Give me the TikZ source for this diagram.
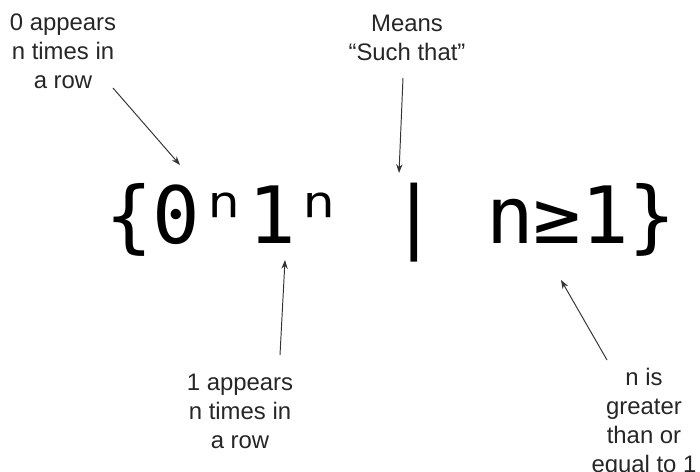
\documentclass[tikz,border=0pt]{standalone}
\usepackage{fontspec}
\setmainfont{Liberation Sans}
\newfontfamily\setfont{DejaVu Sans Mono}
\usetikzlibrary{arrows.meta,positioning}

\begin{document}
\begin{tikzpicture}[
    x=0.02cm, y=-0.02cm,
    >={Stealth[length=5pt,width=3.6pt]},
    note/.style={
        font=\fontsize{13.6}{16.5}\selectfont,
        align=center,
        text=black!85,
        inner sep=0pt
    },
    formula/.style={
        font=\setfont\fontsize{45}{45}\selectfont,
        anchor=base west,
        inner sep=0pt
    },
    arrow/.style={
        ->,
        line width=0.55pt,
        draw=black!80
    }
]

% ---------------------------------------------------------
% Canvas
% ---------------------------------------------------------
\path[use as bounding box] (0,0) rectangle (700,472);

% ---------------------------------------------------------
% The set
% ---------------------------------------------------------
\node[formula] (set) at (105,244) {\{0ⁿ1ⁿ | n≥1\}};

% ---------------------------------------------------------
% Labels
% ---------------------------------------------------------
\node[note] (zeros) at (63,51)
    {0 appears\\n times in\\a row};

\node[note] (such) at (407,38)
    {Means\\“Such that”};

\node[note] (ones) at (240,411)
    {1 appears\\n times in\\a row};

\node[note] (cond) at (644,423)
    {n is\\greater\\than or\\equal to 1};

% arrow ends
\coordinate (zeros tail) at (113,88);
\coordinate (zeros tip)  at (180,165);
\coordinate (such tail)  at (403,78);
\coordinate (such tip)   at (399,173);
\coordinate (ones tail)  at (280,355);
\coordinate (ones tip)   at (285,260);
\coordinate (cond tail)  at (607,360);
\coordinate (cond tip)   at (561,280);

\draw[arrow] (zeros tail) -- (zeros tip);
\draw[arrow] (such tail) -- (such tip);
\draw[arrow] (ones tail) -- (ones tip);
\draw[arrow] (cond tail) -- (cond tip);

\end{tikzpicture}
\end{document}
